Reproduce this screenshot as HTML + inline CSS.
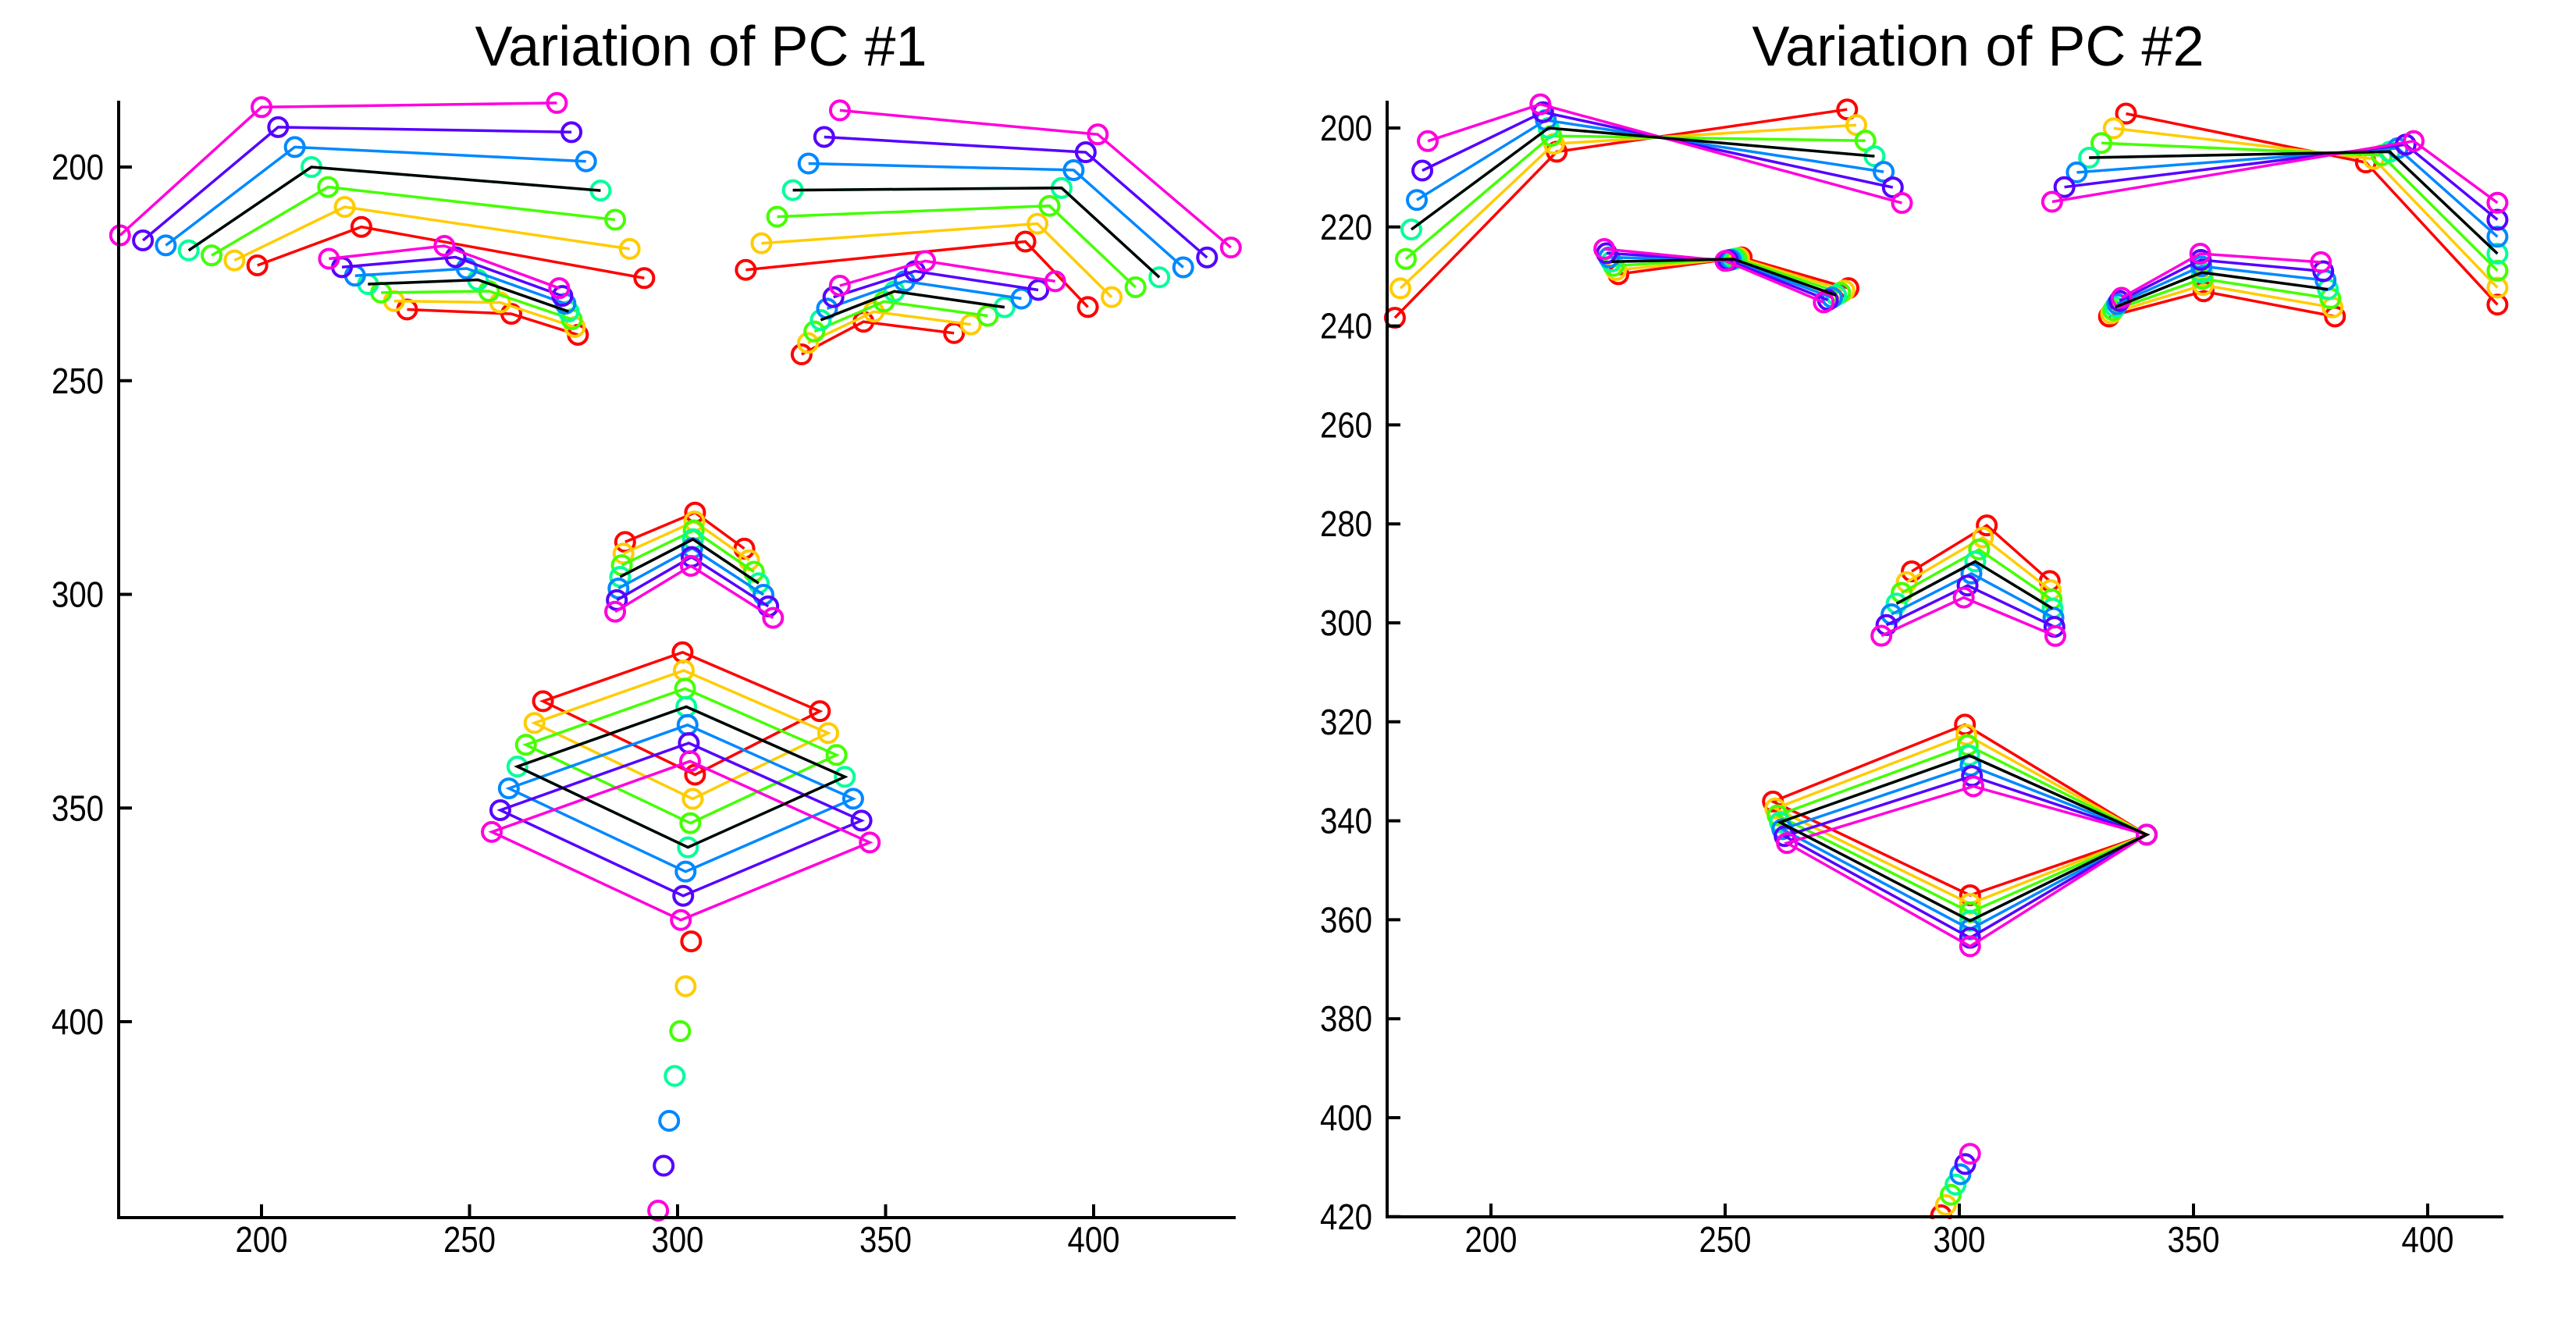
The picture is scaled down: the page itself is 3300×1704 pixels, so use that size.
<!DOCTYPE html>
<html><head><meta charset="utf-8"><style>
html,body{margin:0;padding:0;background:#fff;}
svg{display:block;}
text{font-family:"Liberation Sans",sans-serif;fill:#000;}
</style></head><body>
<svg id="svg" width="3300" height="1704" viewBox="0 0 3300 1704" xmlns="http://www.w3.org/2000/svg">
<defs>
<clipPath id="clipL"><rect x="140" y="110" width="1455" height="1460"/></clipPath>
<clipPath id="clipR"><rect x="1765" y="110" width="1455" height="1452"/></clipPath>
</defs>
</svg>
<script>
// ---- data ----
const colors = ["#ff0000","#ffcc00","#44ff00","#00ff99","#0088ff","#5500ff","#ff00dd"];
const steps = [-3,-2,-1,0,1,2,3];
// landmark order: browL(3) eyeL(3) browR(3) eyeR(3) nose(3) mouth(4) chin(1)
const pc1MeanX = [182.5,212,281.5, 225.6,252,273.8, 327.7,392.3,415.8, 334.4,352.1,378.6, 286.2,303.7,319.5, 261.5,302.1,340.2,302.5, 299.3];
const pc1MeanY = [219.5,200,205.5, 227.4,226.4,233.8, 205.4,204.9,225.8, 235.8,229.1,232.8, 295.9,287.1,297.4, 340.3,326.3,342.7,359.2, 412.7];
const pc1DirX  = [-5.5,-4,-3.5, -3.13,-2.68,-0.75, 3.77,2.9,5.73, 1.53,2.47,4.05, -0.4,-0.17,1.15, -2.05,0.3,2,-0.57, -1.32];
const pc1DirY  = [-1.17,-4.67,-6.83, -1.98,-2.65,-1.82, -6.22,-4.18,-2.32, -2.68,-2.37,-2.02, 2.72,2.08,2.7, 5.1,4.25,5.12,5.67, 10.5];
const pc2MeanX = [183,212.3,281.9, 225.7,251.8,273.7, 327.7,391.9,414.9, 333.3,351.8,378.7, 286.6,303.4,319.9, 261.7,302.1,340,302.3, 299.2];
const pc2MeanY = [220.5,200,205.7, 227,226.5,233.8, 206,204.8,225.4, 236.2,229.2,232.6, 296.1,287.6,297.1, 340.3,326.8,342.8,360.2, 413.5];
const pc2DirX  = [1.17,-0.58,1.95, -0.5,-0.58,-0.88, -2.63,1.7,0, 0.45,-0.12,-0.5, -1.08,-0.82,0.2, 0.5,0.3,0,0, 1.03];
const pc2DirY  = [-5.95,-1.6,3.15, -0.85,0.12,0.48, 2.97,-0.72,-3.43, -0.63,-1.27,-1.83, 2.17,2.43,1.85, 1.4,2.08,0,1.72, -2.07];
const xTicks1 = [200,250,300,350,400];
const yTicks1 = [200,250,300,350,400];
const xTicks2 = [200,250,300,350,400];
const yTicks2 = [200,220,240,260,280,300,320,340,360,380,400,420];
const titles = ["Variation of PC #1","Variation of PC #2"];

const NS="http://www.w3.org/2000/svg";
const svg=document.getElementById('svg');
function mk(tag,attrs,parent){const e=document.createElementNS(NS,tag);for(const k in attrs)e.setAttribute(k,attrs[k]);(parent||svg).appendChild(e);return e;}

const features=[{n:'left-brow',i:[0,1,2],c:false},{n:'left-eye',i:[3,4,5],c:false},{n:'right-brow',i:[6,7,8],c:false},{n:'right-eye',i:[9,10,11],c:false},{n:'nose',i:[12,13,14],c:false},{n:'mouth',i:[15,16,17,18],c:true},{n:'chin',i:[19],c:false}];

function panel(cfg){
  const {sx,sy,left,right,top,bottom,xt,yt,mx,my,dx,dy,clip,title,tx,name}=cfg;
  const g=mk('g',{});
  
  
  const t=mk('text',{x:tx,y:84,'font-size':72,'text-anchor':'middle'},g);
  t.textContent=title;
  
  
  const plot=mk('g',{'clip-path':`url(#${clip})`},g);
  
  
  function drawShape(k,col,markers){
    const sg=mk('g',{},plot);
    
    
    const X=mx.map((m,j)=>sx(m+k*dx[j])), Y=my.map((m,j)=>sy(m+k*dy[j]));
    features.forEach(f=>{
      if(f.i.length>1){
        let pts=f.i.map(j=>X[j].toFixed(1)+','+Y[j].toFixed(1)).join(' ');
        const pl=mk(f.c?'polygon':'polyline',{points:pts,fill:'none',stroke:col,'stroke-width':3.5,'stroke-linejoin':'miter'},sg);
        
        
      }
      if(markers){f.i.forEach(j=>{
        const c=mk('circle',{cx:X[j],cy:Y[j],r:12,fill:'none',stroke:col,'stroke-width':4},sg);
        
        
      });}
    });
  }
  steps.forEach((k,i)=>drawShape(k,colors[i],true));
  drawShape(0,'#000',false);
  // axes
  const ax=mk('g',{stroke:'#000','stroke-width':4,fill:'none'},g);
  
  
  const yl=mk('line',{x1:left,y1:top,x2:left,y2:bottom},ax);
  
  
  const xl=mk('line',{x1:left-2,y1:bottom,x2:right,y2:bottom},ax);
  
  
  xt.forEach(v=>{
    const x=sx(v);
    const tk=mk('line',{x1:x,y1:bottom,x2:x,y2:bottom-17},ax);
    
    
    const lb=mk('text',{x:x,y:1604,'font-size':46,'text-anchor':'middle',textLength:67,lengthAdjust:'spacingAndGlyphs'},g);
    lb.textContent=v;
    
    
  });
  yt.forEach(v=>{
    const y=sy(v);
    const tk=mk('line',{x1:left,y1:y,x2:left+17,y2:y},ax);
    
    
    const lb=mk('text',{x:left-86,y:y+16,'font-size':46,textLength:67,lengthAdjust:'spacingAndGlyphs'},g);
    lb.textContent=v;
    
    
  });
}

panel({name:'pc1-chart',sx:v=>335+(v-200)*5.33,sy:v=>214+(v-200)*5.475,left:152,right:1583,top:129,bottom:1560,
  xt:xTicks1,yt:yTicks1,mx:pc1MeanX,my:pc1MeanY,dx:pc1DirX,dy:pc1DirY,clip:'clipL',title:titles[0],tx:898});
panel({name:'pc2-chart',sx:v=>3110+(v-400)*6.0,sy:v=>164+(v-200)*6.34,left:1777,right:3207,top:129,bottom:1559,
  xt:xTicks2,yt:yTicks2,mx:pc2MeanX,my:pc2MeanY,dx:pc2DirX,dy:pc2DirY,clip:'clipR',title:titles[1],tx:2534});
</script>
</body></html>
